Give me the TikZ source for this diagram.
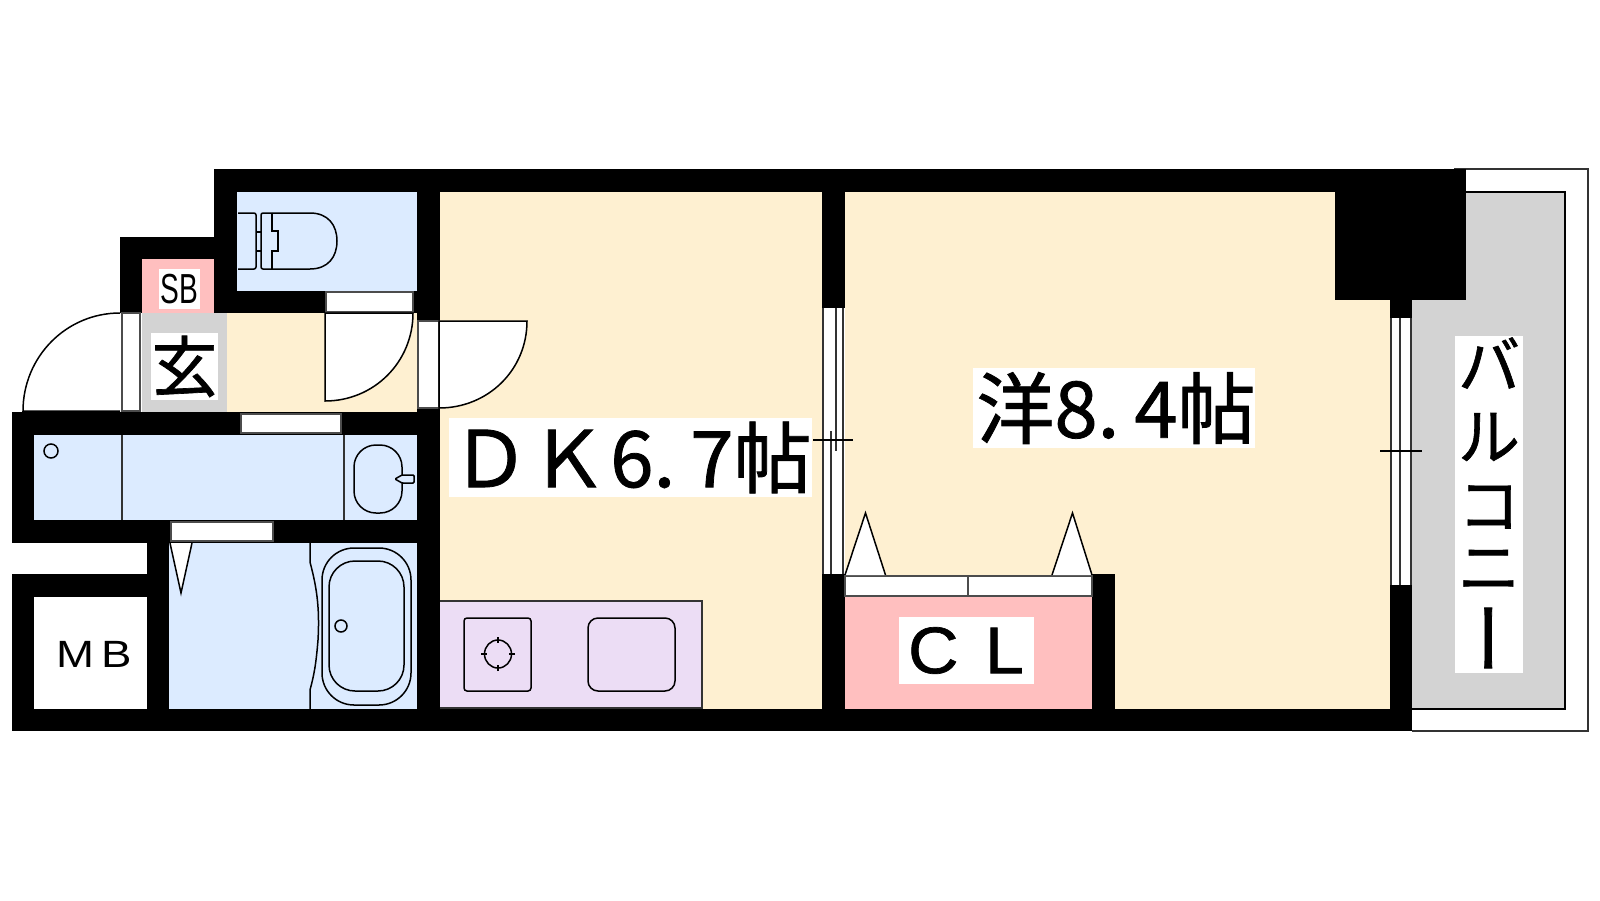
\documentclass[tikz,border=0pt]{standalone}
\usepackage{fontspec}
\setmainfont{Liberation Sans}
\newfontfamily\cjk[RawFeature={embolden=1}]{Noto Sans CJK JP}
\newfontfamily\heavy[RawFeature={embolden=1}]{Liberation Sans}
\definecolor{creamfill}{HTML}{FEF0D1}
\definecolor{bluefill}{HTML}{DCEBFF}
\definecolor{pinkfill}{HTML}{FFBFBF}
\definecolor{grayfill}{HTML}{D3D3D3}
\definecolor{purplefill}{HTML}{ECDDF5}
\tikzset{
  wall/.style={fill=black},
  outline/.style={draw=black, line width=1.5pt},
  opening/.style={fill=white, draw=black!70, line width=1.5pt},
  leaf/.style={fill=white, draw=black, line width=1.5pt},
  labelbox/.style={fill=white, inner sep=0pt},
  balconychar/.style={inner sep=0pt, font=\cjk\fontsize{62}{62}\selectfont},
}
\begin{document}
\begin{tikzpicture}[x=1pt, y=-1pt]
\fill [white] (0,0) rectangle (1600,900);
\useasboundingbox (0,0) rectangle (1600,900);

\fill [bluefill] (237,192) rectangle (417,291);
\fill [pinkfill] (142,259) rectangle (214,313);
\fill [grayfill] (142,313) rectangle (227,412);
\fill [creamfill] (227,313) rectangle (417,412);
\fill [bluefill] (34,435) rectangle (417,520);
\fill [bluefill] (169,543) rectangle (417,709);
\fill [creamfill] (440,192) rectangle (822,709);
\fill [creamfill] (845,192) rectangle (1390,709);
\fill [pinkfill] (845,597) rectangle (1092,709);

\draw [outline, fill=grayfill] (1412,192) -- (1565,192) -- (1565,709) -- (1412,709);
\draw [line width=1.5pt, black!80] (1454,169) -- (1588,169) -- (1588,731) -- (1412,731);

\fill [wall] (214,169) rectangle (1466,192);
\fill [wall] (214,169) rectangle (237,313);
\fill [wall] (120,237) rectangle (237,259);
\fill [wall] (120,237) rectangle (142,313);
\fill [wall] (214,291) rectangle (440,313);
\fill [wall] (417,169) rectangle (440,731);
\fill [wall] (12,412) rectangle (440,435);
\fill [wall] (12,412) rectangle (34,543);
\fill [wall] (12,520) rectangle (440,543);
\fill [wall] (12,574) rectangle (34,731);
\fill [wall] (12,574) rectangle (169,597);
\fill [wall] (147,520) rectangle (169,731);
\fill [wall] (12,709) rectangle (1412,731);
\fill [wall] (822,169) rectangle (845,308);
\fill [wall] (822,574) rectangle (845,709);
\fill [wall] (1092,574) rectangle (1115,709);
\fill [wall] (1335,169) rectangle (1466,300);
\fill [wall] (1390,300) rectangle (1412,318);
\fill [wall] (1390,585) rectangle (1412,731);

% door frames
\draw [opening] (326,292) rectangle (413,312);
\draw [opening] (241,414) rectangle (341,433);
\draw [opening] (171,522) rectangle (273,541);
\draw [opening] (122,313) rectangle (140,411);
\draw [opening] (418,321) rectangle (439,408);
\draw [opening] (845,576) rectangle (968,596);
\draw [opening] (968,576) rectangle (1092,596);

% doors
\draw [leaf] (120,313) .. controls (66,313) and (23,357) .. (23,411) -- (120,411);
\draw [leaf] (325,313) -- (325,401) .. controls (374,401) and (413,362) .. (413,313) -- cycle;
\draw [leaf] (439,321) -- (527,321) .. controls (527,370) and (488,408) .. (439,408) -- cycle;
\draw [leaf] (170,543) -- (181,593) -- (192,543);
\draw [leaf] (845,575) -- (865.5,513) -- (885.5,575);
\draw [leaf] (1052,575) -- (1072.5,513) -- (1092,575);

% windows
\fill [white] (823,308) rectangle (843,574);
\draw [outline, black!80] (823,308) -- (823,574);
\draw [outline, black!80] (843,308) -- (843,574);
\draw [outline, black!80] (836,308) -- (836,451);
\draw [outline, black!80] (831,431) -- (831,574);
\draw [outline] (813,440) -- (853,440);
\fill [white] (1391,318) rectangle (1411,585);
\draw [outline, black!80] (1391,318) -- (1391,585);
\draw [outline, black!80] (1400,318) -- (1400,585);
\draw [outline, black!80] (1411,318) -- (1411,585);
\draw [outline] (1380,451) -- (1422,451);

% toilet
\draw [outline, rounded corners=2pt] (238,213) -- (256,213) -- (256,269) -- (238,269);
\draw [outline] (256,232) -- (261,232);
\draw [outline] (256,251) -- (261,251);
\draw [outline, rounded corners=2pt] (272,213) -- (261,213) -- (261,269) -- (272,269);
\draw [outline] (272,213) -- (310,213) .. controls (328,213) and (337,225) .. (337,241) .. controls (337,257) and (328,269) .. (310,269) -- (272,269);
\draw [outline] (272,213) -- (272,231) -- (278,231) -- (278,251) -- (272,251) -- (272,269);

% washroom
\draw [outline, black!80] (122,435) -- (122,520);
\draw [outline, black!80] (344,435) -- (344,520);
\draw [outline] (51,451) circle [radius=7pt];
\draw [outline, rounded corners=22pt] (354,445) rectangle (402,513);
\draw [outline, fill=bluefill, rounded corners=1pt] (402,475) -- (414,475) -- (414,483) -- (402,483) -- (395,479) -- cycle;

% bath
\draw [outline] (310,543) -- (310,562) .. controls (316,585) and (320,605) .. (318,640) .. controls (316,665) and (314,675) .. (310,690) -- (310,709);
\draw [outline, rounded corners=32pt] (322,548) rectangle (411,705);
\draw [outline, rounded corners=26pt] (329,561) rectangle (404,691);
\draw [outline] (341,626) circle [radius=6pt];

% kitchen
\draw [outline, black!80, fill=purplefill] (440,601) -- (702,601) -- (702,708) -- (440,708);
\draw [outline, rounded corners=3pt] (464,618) rectangle (531,691);
\draw [outline, rounded corners=10pt] (588,618) rectangle (675,691);
\draw [outline] (498,654) ellipse [x radius=13.5pt, y radius=14pt];
\foreach \dx/\dy in {-17/0,17/0,0/-17,0/17}
  \draw [outline] (498,654) ++(\dx,\dy) -- ++(-\dx*0.35,-\dy*0.35);

% labels
\node [labelbox, minimum width=41pt, minimum height=40pt] (sbbox) at (179.5,289) {};
\node (sblabel) at (179.5,289) {\fontsize{42}{42}\selectfont\scalebox{0.67}[1]{SB}};
\node [labelbox, minimum width=67pt, minimum height=67pt] (genkanbox) at (184.5,366.5) {};
\node (genkanlabel) at (184.5,366.5) {\cjk\fontsize{66}{66}\selectfont 玄};
\node (mblabel) at (94,654.5) {\fontsize{38}{38}\selectfont\scalebox{1.2}[1]{M\hspace{6pt}B}};
\node [labelbox, minimum width=135pt, minimum height=67pt] (clbox) at (966.5,650.5) {};
\node (cllabel) at (966,650.5) {\heavy\fontsize{66}{66}\selectfont\scalebox{1.06}[1]{C\hspace{25pt}L}};
\node [labelbox, minimum width=363pt, minimum height=79pt] (dkbox) at (630.5,457.5) {};
\node (dklabel) at (631.5,457.5) {\cjk\fontsize{78}{78}\selectfont ＤＫ\hspace{3pt}6.\hspace{15pt}7帖};
\node [labelbox, minimum width=282pt, minimum height=80pt] (westernbox) at (1114,408) {};
\node (westernlabel) at (1116,408) {\cjk\fontsize{78}{78}\selectfont 洋8.\hspace{15pt}4帖};
\node [labelbox, minimum width=68pt, minimum height=337pt] (balconybox) at (1489,504.5) {};
\foreach \ch/\yy/\nm in {バ/363/a,ル/437/b,コ/507/c,ニ/570/d}
  \node [balconychar] (balcony\nm) at (1489,\yy) {\ch};
\node [balconychar, font=\cjk\fontsize{76}{76}\selectfont, rotate=-90] (balconye) at (1475.5,638) {ー};

\end{tikzpicture}
\end{document}
